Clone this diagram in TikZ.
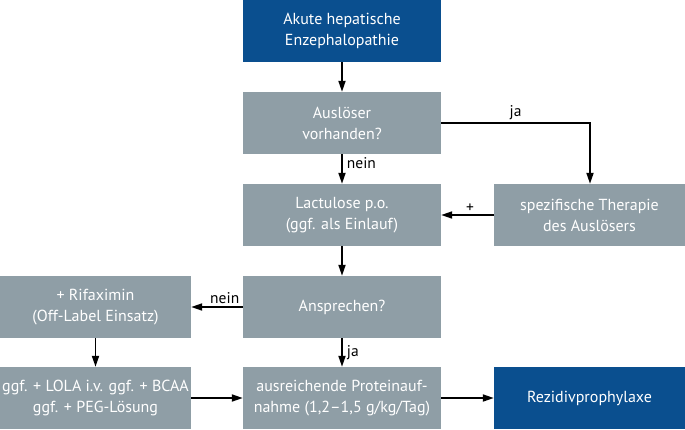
\documentclass[tikz,border=0pt]{standalone}
\usepackage{fontspec}
\setmainfont{PT Sans}
\usetikzlibrary{arrows.meta}
\definecolor{dblue}{HTML}{0A4F8F}
\definecolor{bgray}{HTML}{8F9EA6}
\begin{document}
\begin{tikzpicture}[x=1pt,y=-1pt,
  box/.style={fill=bgray,text=white,minimum width=198pt,minimum height=62pt,inner sep=0pt,align=center,font=\fontsize{16}{21}\selectfont},
  bbox/.style={box,fill=dblue},
  arr/.style={line width=1.8pt,-{Triangle[length=11pt,width=7pt]}},
  lab/.style={font=\fontsize{15.5}{18}\selectfont,inner sep=1pt}]
\useasboundingbox (0,0) rectangle (685,429);
\node[bbox] (akute) at (342,31) {Akute hepatische\\Enzephalopathie};
\node[box] (ausl) at (342,123) {Auslöser\\vorhanden?};
\node[box] (lact) at (342,215) {Lactulose p.o.\\(ggf. als Einlauf)};
\node[box] (ansp) at (342,307) {Ansprechen?};
\node[box] (prot) at (342,398) {ausreichende Proteinauf-\\nahme (1,2–1,5 g/kg/Tag)};
\node[box,minimum width=191pt] (spez) at (589.5,215) {spezifische Therapie\\des Auslösers};
\node[bbox,minimum width=191pt] (rez) at (589.5,398) {Rezidivprophylaxe};
\node[box,minimum width=191pt] (rifa) at (95.5,307) {+ Rifaximin\\(Off-Label Einsatz)};
\node[box,minimum width=191pt] (lola) at (95.5,398) {ggf. + LOLA i.v. ggf. + BCAA\\ggf. + PEG-Lösung};
\coordinate (corner) at (590,123);
\draw[arr] (akute) -- (ausl);
\draw[arr] (ausl) -- node[lab,right,xshift=3pt,pos=0.3]{nein} (lact);
\draw[arr] (ausl.east) -- node[lab,above,pos=0.5,yshift=1pt]{ja} (corner) -- (corner |- spez.north);
\draw[arr] (spez) -- node[lab,above,pos=0.45,yshift=1pt]{+} (lact);
\draw[arr] (lact) -- (ansp);
\draw[arr] (ansp) -- node[lab,above,pos=0.35,yshift=1pt]{nein} (rifa);
\draw[arr] (ansp) -- node[lab,right,xshift=3pt]{ja} (prot);
\draw[arr] (rifa) -- (lola);
\draw[arr] (lola) -- (prot);
\draw[arr] (prot) -- (rez);
\end{tikzpicture}
\end{document}
